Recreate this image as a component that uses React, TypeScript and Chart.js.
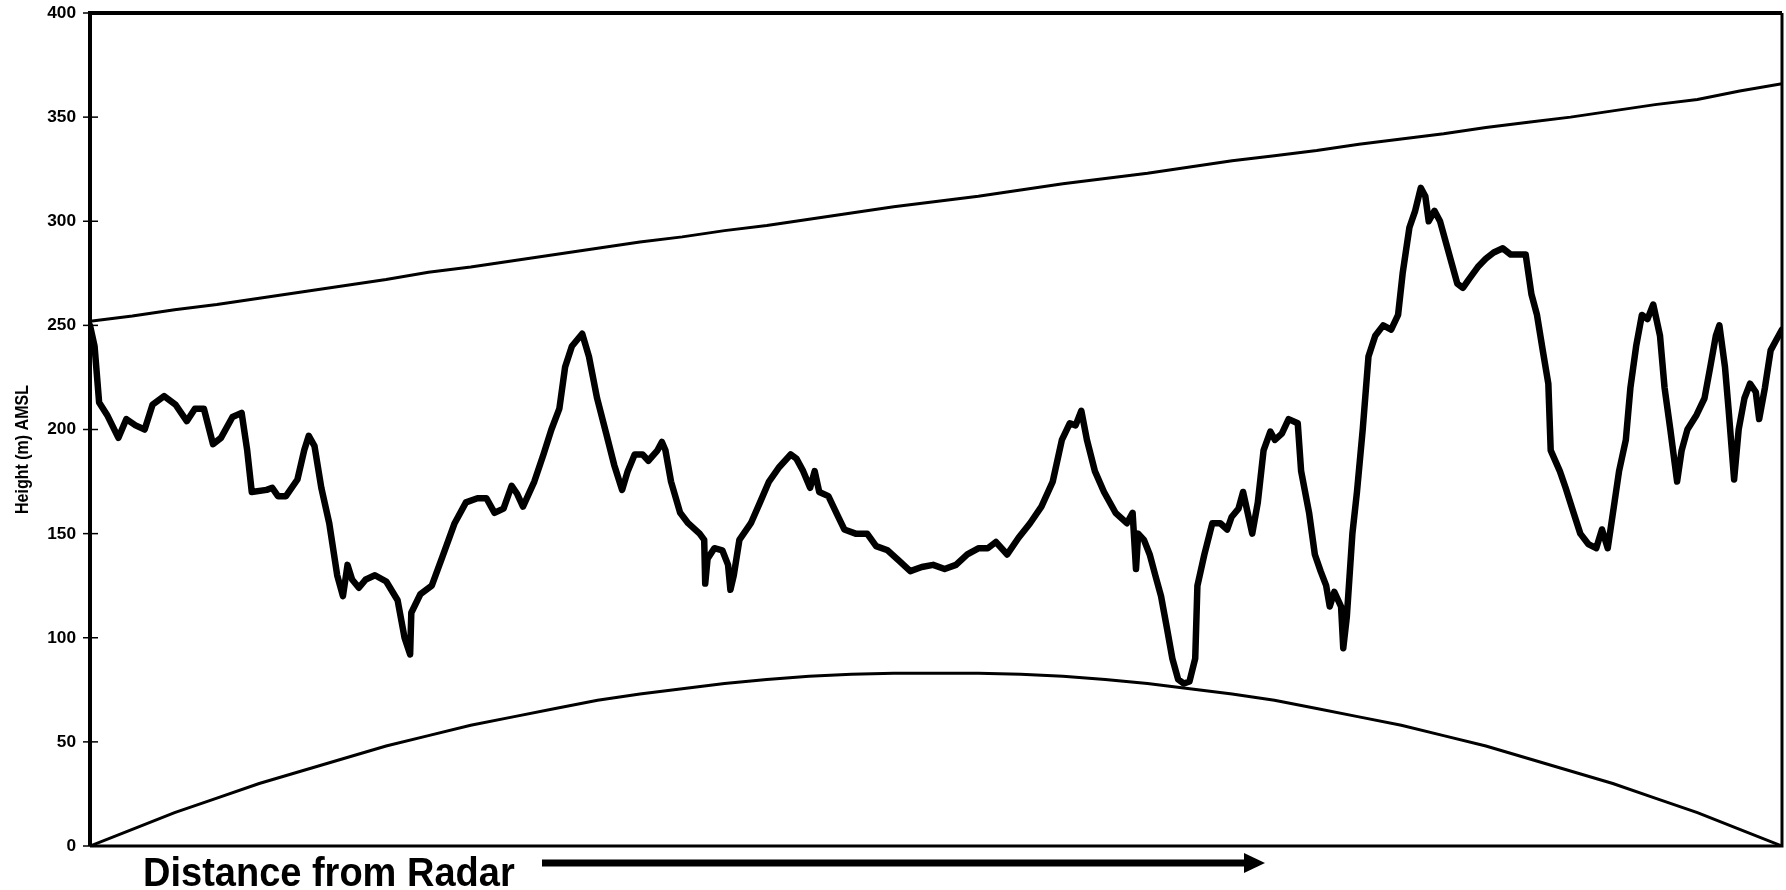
import React, { useEffect, useRef } from "react";
import { Chart, registerables } from "chart.js";

Chart.register(...registerables);

// Distance along the path (0 = radar, 1000 = far end), arbitrary units
const terrainDist = [
  0, 2.7, 5.4, 10.1, 16.8, 21.5, 26.9, 32.3, 37.0, 43.8, 50.5, 57.2, 62.0, 67.3, 72.7, 77.4, 84.2, 89.6, 92.9, 95.6,
  104.4, 107.7, 111.1, 115.8, 122.6, 126.6, 129.3, 132.7, 136.7, 141.4, 146.1, 149.5, 152.2, 154.9, 158.9, 163.0, 168.4, 175.1, 181.8, 185.9,
  189.2, 189.9, 195.3, 202.0, 208.8, 215.5, 222.2, 229.0, 234.3, 239.1, 244.4, 249.2, 252.5, 255.9, 262.6, 268.0, 272.7, 277.4, 280.8, 284.8,
  290.9, 294.9, 299.7, 305.1, 309.8, 314.5, 317.8, 321.9, 326.6, 330.0, 335.4, 338.0, 340.1, 343.4, 348.8, 353.5, 360.3, 363.0, 363.6, 365.0,
  369.0, 373.7, 377.1, 378.5, 380.5, 383.8, 390.6, 396.0, 401.3, 407.4, 414.1, 417.5, 421.5, 425.6, 428.3, 431.0, 436.4, 441.1, 445.8, 452.5,
  459.3, 464.6, 471.4, 478.1, 484.8, 491.6, 498.3, 505.1, 511.8, 518.5, 525.3, 530.6, 535.4, 542.1, 548.8, 555.6, 562.3, 569.0, 574.4, 579.1,
  582.5, 585.9, 589.2, 593.9, 599.3, 606.1, 612.8, 616.2, 618.2, 619.5, 622.9, 626.3, 629.6, 633.0, 636.4, 639.7, 643.1, 646.5, 649.8, 653.2,
  654.5, 658.6, 663.3, 668.0, 672.1, 674.7, 678.8, 681.5, 684.2, 686.9, 690.2, 693.6, 697.6, 700.3, 704.4, 708.4, 713.8, 715.8, 720.5, 723.9,
  727.3, 730.6, 732.7, 735.4, 739.4, 740.7, 742.8, 746.1, 748.8, 752.2, 755.6, 759.6, 764.3, 769.0, 773.1, 775.8, 779.8, 783.2, 786.5, 789.2,
  791.2, 794.6, 797.9, 801.3, 804.7, 808.1, 811.4, 814.8, 820.2, 824.9, 829.6, 835.0, 839.7, 848.5, 851.9, 855.2, 858.6, 861.9, 863.3, 868.7,
  872.1, 876.8, 880.8, 885.5, 890.2, 893.6, 897.0, 901.0, 903.7, 907.7, 910.4, 913.8, 917.2, 920.5, 923.9, 927.9, 930.6, 934.0, 938.0, 940.7,
  944.1, 949.5, 954.2, 957.6, 960.9, 963.0, 966.3, 968.4, 971.7, 974.4, 977.8, 981.1, 984.5, 986.5, 989.9, 993.3, 996.6, 1000,
];

// Terrain height (m AMSL)
const terrainHeight = [
  250, 240, 213, 207, 196, 205, 202, 200, 212, 216, 212, 204, 210, 210, 193, 196, 206, 208, 190, 170,
  171, 172, 168, 168, 176, 190, 197, 192, 172, 155, 130, 120, 135, 128, 124, 128, 130, 127, 118, 100,
  92, 112, 121, 125, 140, 155, 165, 167, 167, 160, 162, 173, 169, 163, 175, 188, 200, 210, 230, 240,
  246, 235, 215, 198, 183, 171, 180, 188, 188, 185, 190, 194, 190, 175, 160, 155, 150, 147, 126, 138,
  143, 142, 135, 123, 130, 147, 155, 165, 175, 182, 188, 186, 180, 172, 180, 170, 168, 160, 152, 150,
  150, 144, 142, 137, 132, 134, 135, 133, 135, 140, 143, 143, 146, 140, 148, 155, 163, 175, 195, 203,
  202, 209, 195, 180, 170, 160, 155, 160, 133, 150, 147, 140, 130, 120, 105, 90, 80, 78, 79, 90,
  125, 140, 155, 155, 152, 158, 162, 170, 160, 150, 165, 190, 199, 195, 198, 205, 203, 180, 160, 140,
  132, 125, 115, 122, 115, 95, 110, 150, 170, 200, 235, 245, 250, 248, 255, 275, 297, 305, 316, 312,
  300, 305, 300, 290, 280, 270, 268, 272, 278, 282, 285, 287, 284, 284, 265, 255, 238, 222, 190, 180,
  172, 160, 150, 145, 143, 152, 143, 165, 180, 195, 220, 240, 255, 253, 260, 245, 220, 200, 175, 190,
  200, 207, 215, 230, 245, 250, 230, 210, 176, 200, 215, 222, 218, 205, 220, 238, 243, 248,
];

// Beam edges sampled along the path
const beamDist = [
  0, 25, 50, 75, 100, 125, 150, 175, 200, 225, 250, 275, 300, 325, 350, 375, 400, 425, 450, 475,
  500, 525, 550, 575, 600, 625, 650, 675, 700, 725, 750, 775, 800, 825, 850, 875, 900, 925, 950, 975, 1000,
];
const upperBeam = [
  252, 254.5, 257.5, 260, 263, 266, 269, 272, 275.5, 278, 281, 284, 287, 290, 292.5, 295.5, 298, 301, 304, 307,
  309.5, 312, 315, 318, 320.5, 323, 326, 329, 331.5, 334, 337, 339.5, 342, 345, 347.5, 350, 353, 356, 358.5, 362.5, 366,
];
const lowerBeam = [
  0, 8, 16, 23, 30, 36, 42, 48, 53, 58, 62, 66, 70, 73, 75.5, 78, 80, 81.5, 82.5, 83,
  83, 83, 82.5, 81.5, 80, 78, 75.5, 73, 70, 66, 62, 58, 53, 48, 42, 36, 30, 23, 16, 8, 0,
];

const yTicks = [0, 50, 100, 150, 200, 250, 300, 350, 400];
const yTitle = "Height (m) AMSL";
const xCaption = "Distance from Radar";

const FONT = '"Liberation Sans", Arial, Helvetica, sans-serif';

const decorPlugin = {
  id: "decor",
  afterDatasetsDraw(chart: any) {
    const { ctx, chartArea } = chart;
    const { left, right, top, bottom } = chartArea;
    const y = chart.scales.y;
    ctx.save();
    ctx.strokeStyle = "#000";
    ctx.fillStyle = "#000";
    // crossing tick marks and tick labels
    ctx.lineWidth = 1.5;
    ctx.font = `bold 16px ${FONT}`;
    ctx.textAlign = "right";
    ctx.textBaseline = "middle";
    yTicks.forEach((v) => {
      const py = y.getPixelForValue(v);
      ctx.beginPath();
      ctx.moveTo(left - 7, py);
      ctx.lineTo(left + 8, py);
      ctx.stroke();
      ctx.save();
      ctx.translate(left - 14, py + 0.5);
      ctx.scale(1.08, 1);
      ctx.fillText(String(v), 0, 0);
      ctx.restore();
    });
    // axis title
    ctx.save();
    ctx.translate(28, (top + bottom) / 2 + 20);
    ctx.rotate(-Math.PI / 2);
    ctx.scale(1, 1.2);
    ctx.font = `bold 16px ${FONT}`;
    ctx.textAlign = "center";
    ctx.textBaseline = "alphabetic";
    ctx.fillText(yTitle, 0, 0);
    ctx.restore();
    // frame
    ctx.lineWidth = 4;
    ctx.beginPath();
    ctx.moveTo(left, bottom);
    ctx.lineTo(left, top);
    ctx.lineTo(right, top);
    ctx.stroke();
    ctx.lineWidth = 3;
    ctx.beginPath();
    ctx.moveTo(right, top);
    ctx.lineTo(right, bottom);
    ctx.lineTo(left, bottom);
    ctx.stroke();
    // bottom caption and arrow
    ctx.font = `bold 38px ${FONT}`;
    ctx.textAlign = "left";
    ctx.textBaseline = "alphabetic";
    ctx.save();
    ctx.translate(left + 53, bottom + 40);
    ctx.scale(1, 1.05);
    ctx.fillText(xCaption, 0, 0);
    ctx.restore();
    const ay = bottom + 17;
    const ax0 = left + 452;
    const ax1 = left + 1175;
    ctx.lineWidth = 7;
    ctx.lineCap = "butt";
    ctx.beginPath();
    ctx.moveTo(ax0, ay);
    ctx.lineTo(ax1 - 18, ay);
    ctx.stroke();
    ctx.beginPath();
    ctx.moveTo(ax1, ay);
    ctx.lineTo(ax1 - 21, ay - 10);
    ctx.lineTo(ax1 - 21, ay + 10);
    ctx.closePath();
    ctx.fill();
    ctx.restore();
  },
};

export default function App() {
  const canvasRef = useRef<HTMLCanvasElement | null>(null);

  useEffect(() => {
    if (!canvasRef.current) return;
    const toPts = (xs: number[], ys: number[]) => xs.map((x, i) => ({ x, y: ys[i] }));
    const chart = new Chart(canvasRef.current, {
      type: "line",
      data: {
        datasets: [
          {
            label: "Terrain",
            data: toPts(terrainDist, terrainHeight),
            borderColor: "#000",
            borderWidth: 6.5,
            pointRadius: 0,
            tension: 0,
            borderJoinStyle: "round",
            borderCapStyle: "round",
          },
          {
            label: "Upper",
            data: toPts(beamDist, upperBeam),
            borderColor: "#000",
            borderWidth: 3,
            pointRadius: 0,
            tension: 0,
          },
          {
            label: "Lower",
            data: toPts(beamDist, lowerBeam),
            borderColor: "#000",
            borderWidth: 3,
            pointRadius: 0,
            tension: 0,
          },
        ],
      },
      options: {
        animation: false,
        responsive: true,
        maintainAspectRatio: false,
        layout: { padding: { left: 0, top: 13, right: 4, bottom: 44 } },
        plugins: { legend: { display: false }, tooltip: { enabled: false } },
        scales: {
          x: { type: "linear", min: 0, max: 1000, display: false },
          y: {
            min: 0,
            max: 400,
            afterFit: (s: any) => {
              s.width = 90;
            },
            grid: { display: false },
            border: { display: false },
            ticks: { display: false, stepSize: 50 },
            title: { display: false },
          },
        },
      },
      plugins: [decorPlugin],
    });
    return () => chart.destroy();
  }, []);

  return (
    <div style={{ position: "absolute", left: 0, top: 0, width: 1786, height: 890, background: "#fff" }}>
      <canvas ref={canvasRef} />
    </div>
  );
}
